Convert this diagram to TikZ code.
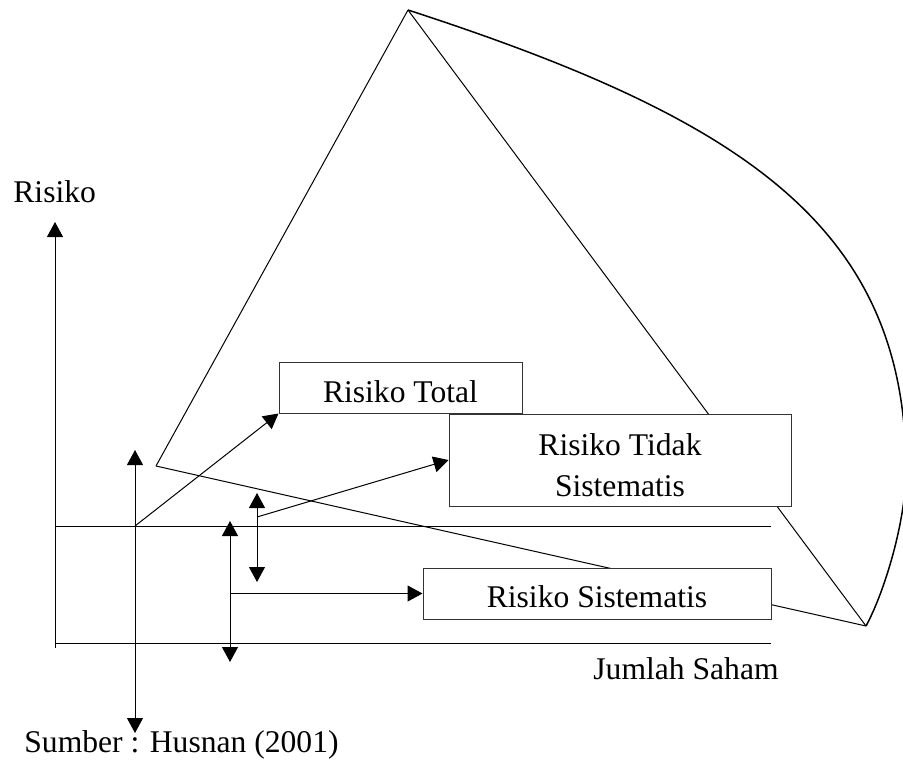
\documentclass[tikz,border=0pt]{standalone}
\usepackage{fontspec}
\setmainfont{Liberation Serif}
\usetikzlibrary{arrows.meta,positioning,backgrounds}

\begin{document}
\begin{tikzpicture}[x=0.5pt, y=-0.5pt, >={Triangle[length=7.5pt, width=8pt]},
			txt/.style={draw=none, inner sep=0pt, font=\fontsize{15.8}{19}\selectfont},
			boxText/.style={align=center, font=\fontsize{15.8}{20.5}\selectfont},
			riskBox/.style={draw=black!80, rectangle, fill=white, inner sep=0pt, line width=0.5pt},
			axisLine/.style={line width=0.5pt, color=black},
			arrowLine/.style={line width=0.5pt, color=black, ->},
			dblArrow/.style={line width=0.5pt, color=black, <->},
			chainLine/.style={line width=0.5pt, -, color=black},
			curveLine/.style={line width=0.75pt, -, color=black}
			]
			\useasboundingbox (0,0) rectangle (903,760);
			
			% boxes
			\node[riskBox, minimum width=121.5pt, minimum height=25.5pt, label={[boxText, yshift=-2.2pt]center:Risiko Total}](total) at (400.5,387.5) {};
			\node[riskBox, minimum width=171pt, minimum height=46pt, label={[boxText, yshift=-2.7pt]center:Risiko Tidak\\Sistematis}](tidak) at (620,460) {};
			\node[riskBox, minimum width=174pt, minimum height=25.5pt, label={[boxText, yshift=-1.6pt]center:Risiko Sistematis}](sist) at (597,593.5) {};
			
			% labels
			\node[txt, anchor=base west](lblRisiko) at (13,202) {Risiko};
			\node[txt, anchor=base west](lblSaham) at (593,679) {Jumlah Saham};
			\node[txt, anchor=base west](lblSumber) at (24,752) {Sumber : Husnan (2001)};
			
			% axes
			\coordinate (o) at (55,648);
			\coordinate (ytop) at (55,222);
			\coordinate (h1a) at (55,526);
			\coordinate (h1b) at (771,526);
			\coordinate (h2a) at (55,643);
			\coordinate (h2b) at (771,643);
			
			\draw [arrowLine] (o) to (ytop);
			\draw [axisLine] (h1a) to (h1b);
			\draw [axisLine] (h2a) to (h2b);
			
			% arrows
			\coordinate (v1a) at (135,450);
			\coordinate (v1b) at (135,733);
			\coordinate (v1m) at (135,526);
			\coordinate (v2a) at (257,493);
			\coordinate (v2b) at (257,582);
			\coordinate (v2m) at (257,517);
			\coordinate (v3a) at (230,521);
			\coordinate (v3b) at (230,662);
			\coordinate (v3m) at (230,593.5);
			
			\draw [dblArrow] (v1a) to (v1b);
			\draw [dblArrow] (v2a) to (v2b);
			\draw [dblArrow] (v3a) to (v3b);
			
			\draw [arrowLine] (v1m) to (total.south west);
			\draw [arrowLine] (v2m) to (tidak.west);
			\draw [arrowLine] (v3m) to (sist.west);
			
			% triangle
			\coordinate (apex) at (408,10);
			\coordinate (lv) at (156,466);
			\coordinate (rv) at (866,626);
			\coordinate (bulge) at (906,470);
			
			\begin{pgfonlayer}{background}
			\draw [chainLine] (apex) to (lv);
			\draw [chainLine] (lv) to (rv);
			\draw [chainLine] (apex) to (rv);
			\draw [curveLine] (apex) .. controls (740,118) and (906,225) .. (bulge)
			                         .. controls (906,520) and (885,591) .. (rv);
			\end{pgfonlayer}
			
			\end{tikzpicture}
\end{document}
